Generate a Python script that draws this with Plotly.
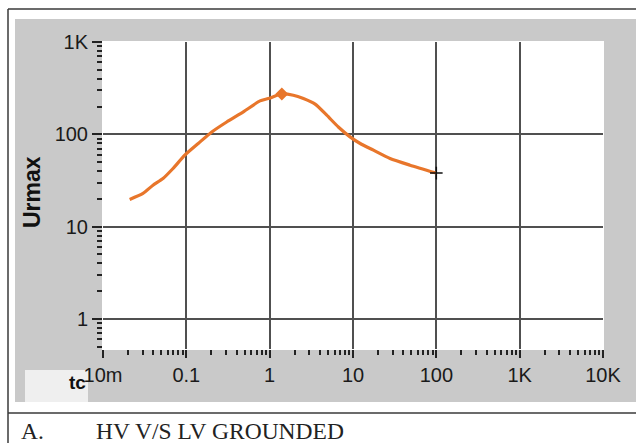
import plotly.graph_objects as go

# Urmax versus tc (log-log), HV v/s LV grounded
tc = [0.0209, 0.0302, 0.0398, 0.0525, 0.0692, 0.0958, 0.139, 0.202, 0.305,
      0.483, 0.766, 0.964, 1.40, 1.92, 2.54, 3.51, 4.84, 6.67, 9.22, 12.2,
      17.6, 27.8, 48.3, 100.0]
urmax = [19.7, 22.9, 28.1, 33.2, 42.6, 59.4, 79.5, 106, 136,
         175, 230, 244, 274, 265, 244, 212, 161, 120, 93.8, 79.5,
         67.3, 54.7, 46.3, 38.0]

peak_tc = [1.40]
peak_urmax = [274]
cursor_tc = [100.0]
cursor_urmax = [38.0]

x_tickvals = [0.01, 0.1, 1, 10, 100, 1000, 10000]
x_ticktext = ["10m", "0.1", "1", "10", "100", "1K", "10K"]
y_tickvals = [1, 10, 100, 1000]
y_ticktext = ["1", "10", "100", "1K"]

caption_tag = "A."
caption_text = "HV V/S LV GROUNDED"

W, H = 636, 443
L, R, T, B = 103, 603, 42, 349


def px(x):
    return (x - L) / (R - L)


def py(y):
    return (B - y) / (B - T)


def minor_vals(lo_exp, hi_exp):
    vals = []
    for e in range(lo_exp, hi_exp):
        for m in range(2, 10):
            vals.append(m * 10.0 ** e)
    return vals


ORANGE = "#E8762B"
GRID = "#505050"
PANEL = "#C9C9C9"
TICKFONT = dict(family="Liberation Sans, Arial", size=20, color="#1a1a1a")

fig = go.Figure()
fig.add_trace(go.Scatter(x=tc, y=urmax, mode="lines",
                         line=dict(color=ORANGE, width=3.2, shape="spline", smoothing=0.6),
                         showlegend=False))
fig.add_trace(go.Scatter(x=peak_tc, y=peak_urmax, mode="markers",
                         marker=dict(symbol="diamond", size=10, color=ORANGE),
                         showlegend=False))
fig.add_trace(go.Scatter(x=cursor_tc, y=cursor_urmax, mode="markers",
                         marker=dict(symbol="cross-thin-open", size=9, color="#111",
                                     line=dict(color="#111", width=1.5)),
                         showlegend=False))

shapes = [
    # grey instrument panel
    dict(type="rect", xref="paper", yref="paper", x0=px(15), x1=px(W), y0=py(402), y1=py(19),
         fillcolor=PANEL, line_width=0, layer="below"),
    # white plotting field
    dict(type="rect", xref="paper", yref="paper", x0=0, x1=1, y0=0, y1=1,
         fillcolor="white", line_width=0, layer="below"),
    # light box behind the x label
    dict(type="rect", xref="paper", yref="paper", x0=px(25), x1=px(88), y0=py(402), y1=py(370),
         fillcolor="#EFEFEF", line_width=0, layer="below"),
    # frame lines
    dict(type="line", xref="paper", yref="paper", x0=px(8), x1=px(8), y0=py(443), y1=py(9),
         line=dict(color="#3a3a3a", width=1.5)),
    dict(type="line", xref="paper", yref="paper", x0=px(8), x1=px(W), y0=py(9), y1=py(9),
         line=dict(color="#3a3a3a", width=1.5)),
    dict(type="line", xref="paper", yref="paper", x0=px(8), x1=px(W), y0=py(413), y1=py(413),
         line=dict(color="#3a3a3a", width=1.5)),
]

annotations = [
    dict(text="<b>Urmax</b>", xref="paper", yref="paper", x=px(32), y=py(192),
         textangle=-90, showarrow=False, xanchor="center", yanchor="middle",
         font=dict(family="Liberation Sans, Arial", size=23, color="#111")),
    dict(text="<b>tc</b>", xref="paper", yref="paper", x=px(88), y=py(382),
         showarrow=False, xanchor="right", yanchor="middle",
         font=dict(family="Liberation Sans, Arial", size=19, color="#111")),
    dict(text=caption_tag, xref="paper", yref="paper", x=px(19), y=py(431),
         showarrow=False, xanchor="left", yanchor="middle",
         font=dict(family="Liberation Serif, Times New Roman", size=23.5, color="#222")),
    dict(text=caption_text, xref="paper", yref="paper", x=px(94), y=py(431),
         showarrow=False, xanchor="left", yanchor="middle",
         font=dict(family="Liberation Serif, Times New Roman", size=23.5, color="#222")),
]

fig.update_layout(
    width=W, height=H, autosize=False,
    margin=dict(l=L, r=W - R, t=T, b=H - B, pad=0),
    paper_bgcolor="white", plot_bgcolor="white",
    shapes=shapes, annotations=annotations,
    showlegend=False,
)

fig.update_xaxes(
    type="log", range=[-2, 4], tickmode="array", tickvals=x_tickvals, ticktext=x_ticktext,
    ticks="outside", ticklen=8, tickwidth=1.5, tickcolor="#222",
    showgrid=True, gridcolor=GRID, gridwidth=2, zeroline=False,
    showline=True, linecolor="white", linewidth=1, mirror=True,
    tickfont=TICKFONT,
    minor=dict(tickmode="array", tickvals=minor_vals(-2, 4), ticks="outside",
               ticklen=5, tickwidth=1.5, tickcolor="#222", showgrid=False),
)
fig.update_yaxes(
    type="log", range=[-0.326, 3], tickmode="array", tickvals=y_tickvals, ticktext=y_ticktext,
    ticks="outside", ticklen=10, tickwidth=1.5, tickcolor="#222",
    showgrid=True, gridcolor=GRID, gridwidth=2, zeroline=False,
    showline=True, linecolor="white", linewidth=1, mirror=True,
    tickfont=TICKFONT,
    minor=dict(tickmode="array", tickvals=minor_vals(-1, 3), ticks="outside",
               ticklen=5, tickwidth=1.5, tickcolor="#222", showgrid=False),
)

fig.write_html("out.html")
